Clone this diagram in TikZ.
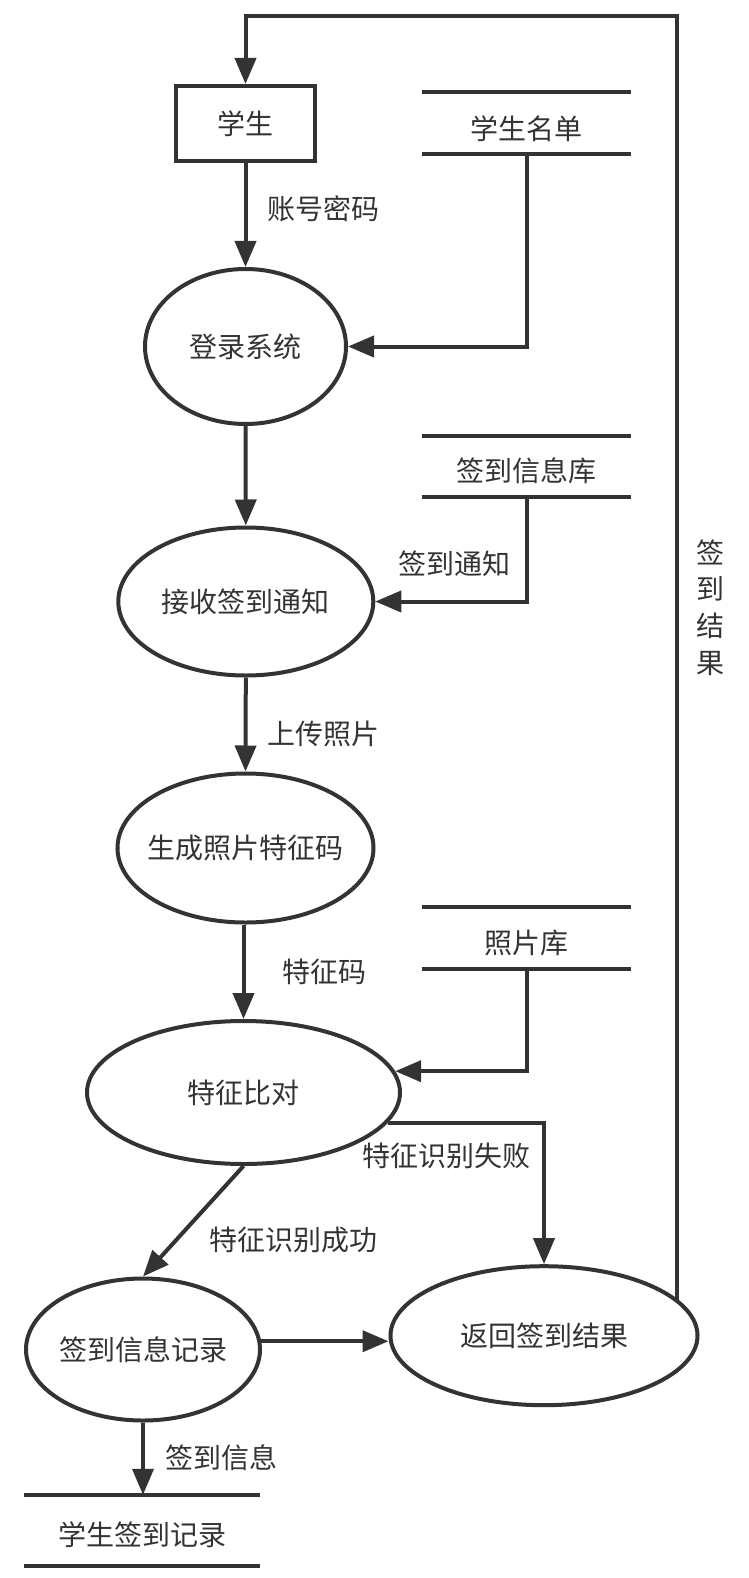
\documentclass[tikz,border=0pt]{standalone}
\usepackage{fontspec}
\setmainfont{Noto Sans CJK SC}
\usetikzlibrary{arrows.meta,shapes.geometric,backgrounds}
\definecolor{ink}{HTML}{333333}
\newcommand{\ptext}[2][-3pt]{\raisebox{#1}{\makebox[0pt]{#2}}}
\begin{document}
\begin{tikzpicture}[x=1pt,y=-1pt,
  every node/.style={text=ink, font=\fontsize{28}{36.7}\selectfont},
  conn/.style={draw=ink, line width=4pt, -{Triangle[length=26pt,width=21pt]}},
  plain/.style={draw=ink, line width=4pt},
  proc/.style={ellipse, draw=ink, fill=white, line width=4pt, inner sep=0pt},
  entity/.style={rectangle, draw=ink, fill=white, line width=4pt, inner sep=0pt},
  store/.style={inner sep=0pt},
  lbl/.style={inner sep=0pt}]
\useasboundingbox (0,0) rectangle (748,1578);

% processes and entities
\node[entity, minimum width=139pt, minimum height=75pt] (stu) at (245.5,123.5) {学生};
\node[proc, minimum width=201pt, minimum height=155pt] (login) at (245.5,346.5) {\ptext{登录系统}};
\node[proc, minimum width=255pt, minimum height=148pt] (recv) at (245.8,601.5) {\ptext{接收签到通知}};
\node[proc, minimum width=256pt, minimum height=149pt] (gen) at (245.5,848) {\ptext{生成照片特征码}};
\node[proc, minimum width=313pt, minimum height=143pt] (cmp) at (243.5,1092.5) {\ptext[-4pt]{特征比对}};
\node[proc, minimum width=234pt, minimum height=142pt] (rec) at (143,1349.5) {\ptext[-1pt]{签到信息记录}};
\node[proc, minimum width=307pt, minimum height=139pt] (res) at (544,1335.7) {\ptext[-1pt]{返回签到结果}};

% data stores
\node[store, minimum width=209pt, minimum height=62pt] (names) at (526.5,123) {};
\node[lbl] at (526.5,129) {学生名单};
\node[store, minimum width=209pt, minimum height=61pt] (sinfo) at (526.5,466.5) {};
\node[lbl] at (526.5,471) {签到信息库};
\node[store, minimum width=209pt, minimum height=62pt] (photos) at (526.5,938) {};
\node[lbl] at (526.5,943) {照片库};
\node[store, minimum width=236pt, minimum height=71pt] (srec) at (142,1530.5) {};
\node[lbl] at (142,1535) {学生签到记录};

\foreach \s in {names,sinfo,photos,srec}{
  \draw[plain] (\s.north west) -- (\s.north east);
  \draw[plain] (\s.south west) -- (\s.south east);
}

% connectors
\draw[conn] (stu.south) -- (login.north);
\draw[conn] (names.south) |- (login.east);
\draw[conn] (login.south) -- (recv.north);
\draw[conn] (sinfo.south) |- (recv.east);
\draw[conn] (recv.south) -- (gen.north);
\draw[conn] (cmp.north |- gen.south) -- (cmp.north);
\draw[conn] (photos.south) |- (cmp.8);
\draw[conn] (cmp.-12) -| (res.north);
\draw[conn] (cmp.south) -- (rec.north);
\draw[conn] (rec.4) -- (rec.4 -| res.west);
\draw[conn] (rec.south) -- (rec.south |- srec.north);

\coordinate (lp) at (677,1336);
\coordinate (tr) at (677,16);
\begin{scope}[on background layer]
\draw[conn] (lp) -- (tr) -| (stu.north);
\end{scope}

% labels
\node[lbl] at (323.5,209) {账号密码};
\node[lbl] at (454,564) {签到通知};
\node[lbl] at (323,734) {上传照片};
\node[lbl] at (324,972) {特征码};
\node[lbl] at (446,1156) {特征识别失败};
\node[lbl] at (293,1240) {特征识别成功};
\node[lbl] at (221.5,1458) {签到信息};
\node[lbl, align=center] at (710,607.5) {签\\到\\结\\果};
\end{tikzpicture}
\end{document}
